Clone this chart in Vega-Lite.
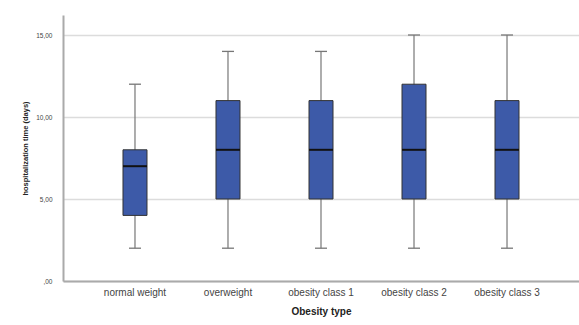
{
  "$schema": "https://vega.github.io/schema/vega-lite/v6.json",
  "width": 516,
  "height": 266,
  "autosize": {"type": "none"},
  "padding": {"left": 63, "top": 15, "right": 0, "bottom": 44},
  "background": "white",
  "config": {
    "view": {"stroke": null},
    "font": "Liberation Sans",
    "axis": {"labelFont": "Liberation Sans", "titleFont": "Liberation Sans"}
  },
  "data": {
    "values": [
      {"type": "normal weight", "min": 2, "q1": 4, "median": 7, "q3": 8, "max": 12},
      {"type": "overweight", "min": 2, "q1": 5, "median": 8, "q3": 11, "max": 14},
      {"type": "obesity class 1", "min": 2, "q1": 5, "median": 8, "q3": 11, "max": 14},
      {"type": "obesity class 2", "min": 2, "q1": 5, "median": 8, "q3": 12, "max": 15},
      {"type": "obesity class 3", "min": 2, "q1": 5, "median": 8, "q3": 11, "max": 15}
    ]
  },
  "encoding": {
    "x": {
      "field": "type",
      "type": "nominal",
      "sort": null,
      "scale": {"paddingInner": 0, "paddingOuter": 0.274},
      "axis": {
        "title": "Obesity type",
        "titleFontSize": 10,
        "titleFontWeight": "bold",
        "titleColor": "#222",
        "titlePadding": 9,
        "labelAngle": 0,
        "labelFontSize": 10,
        "labelColor": "#444",
        "labelPadding": 6,
        "ticks": false,
        "domainColor": "#aaa",
        "domainWidth": 2
      }
    }
  },
  "layer": [
    {
      "mark": {"type": "rule", "color": "#777", "strokeWidth": 1.2},
      "encoding": {
        "y": {
          "field": "min",
          "type": "quantitative",
          "scale": {"domain": [0, 16.22], "nice": false, "zero": true},
          "axis": {
            "title": "hospitalization time (days)",
            "titleFontSize": 7.5,
            "titleFontWeight": "bold",
            "titleColor": "#222",
            "titlePadding": 6,
            "values": [0, 5, 10, 15],
            "labelExpr": "datum.value == 0 ? ',00' : replace(format(datum.value, '.2f'), '.', ',')",
            "labelFontSize": 6.5,
            "labelColor": "#444",
            "labelPadding": 11,
            "ticks": false,
            "domainColor": "#aaa",
            "domainWidth": 2,
            "grid": true,
            "gridColor": "#dcdcdc",
            "gridWidth": 1.5
          }
        },
        "y2": {"field": "max"}
      }
    },
    {
      "mark": {"type": "tick", "color": "#777", "size": 12, "thickness": 1.3, "opacity": 1},
      "encoding": {"y": {"field": "min", "type": "quantitative"}}
    },
    {
      "mark": {"type": "tick", "color": "#777", "size": 12, "thickness": 1.3, "opacity": 1},
      "encoding": {"y": {"field": "max", "type": "quantitative"}}
    },
    {
      "mark": {"type": "bar", "size": 24, "color": "#3d5aa8", "stroke": "#333", "strokeWidth": 1},
      "encoding": {
        "y": {"field": "q1", "type": "quantitative"},
        "y2": {"field": "q3"}
      }
    },
    {
      "mark": {"type": "tick", "color": "#111", "size": 24, "thickness": 2, "opacity": 1},
      "encoding": {"y": {"field": "median", "type": "quantitative"}}
    }
  ]
}
